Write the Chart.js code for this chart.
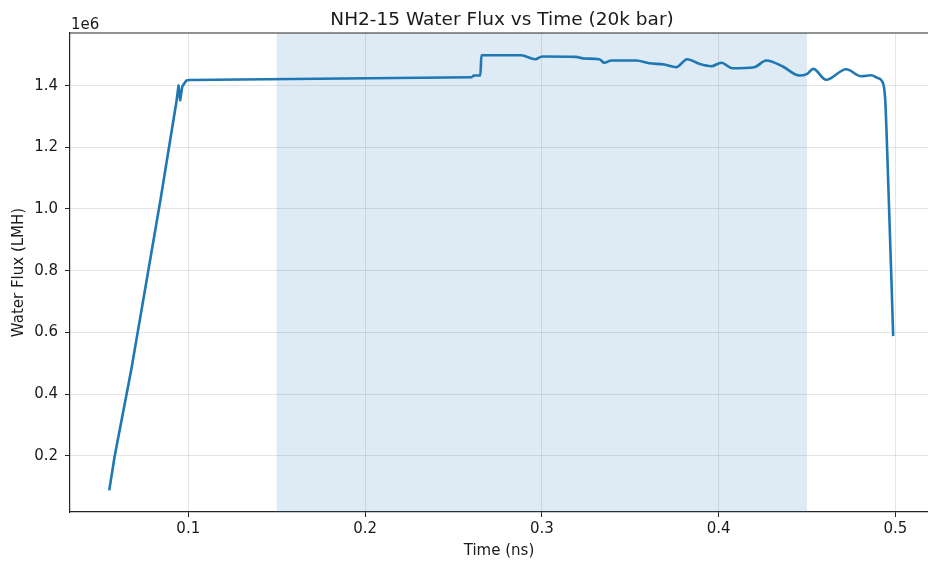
<!DOCTYPE html>
<html>
<head>
<meta charset="utf-8">
<script src="https://cdn.jsdelivr.net/npm/chart.js@4"></script>
<style>
    body { margin: 0; background: #fff; overflow: hidden; }
    #wrap { width: 928px; height: 567px; position: relative; }
</style>
</head>
<body>
<div id="wrap"><canvas id="flux-chart"></canvas></div>
<script>
// values
const timeNs = [
    0.0553, 0.0583, 0.0678, 0.0843, 0.0932, 0.0945, 0.0954, 0.0966, 0.0989, 0.1007,
    0.2607, 0.2613, 0.2652, 0.2658, 0.2882, 0.2963, 0.3001, 0.3193, 0.3240, 0.3325,
    0.3353, 0.3393, 0.3534, 0.3608, 0.3692, 0.3760, 0.3822, 0.3890, 0.3958, 0.4015,
    0.4077, 0.4201, 0.4269, 0.4360, 0.4456, 0.4501, 0.4535, 0.4608, 0.4721, 0.4806,
    0.4863, 0.4897, 0.4931, 0.4942, 0.4951, 0.4964, 0.4977, 0.4987
];
const waterFlux = [
    87500, 196800, 480000, 1030800, 1344200, 1400300, 1352700, 1397100, 1416500, 1418200,
    1427200, 1432700, 1432700, 1498600, 1498600, 1485600, 1494300, 1493300, 1487800, 1485600,
    1473900, 1481400, 1481400, 1472600, 1468400, 1459700, 1485600, 1470700, 1462900, 1473900,
    1456400, 1459700, 1481400, 1462900, 1432700, 1438300, 1454400, 1418800, 1453200, 1430500,
    1433700, 1425300, 1405900, 1354900, 1225300, 998400, 771500, 587700
];
const xTicks = [0.1, 0.2, 0.3, 0.4, 0.5];
const yTicks = [200000, 400000, 600000, 800000, 1000000, 1200000, 1400000];
const shadedSpan = [0.15, 0.45];

const FONT = 'DejaVu Sans';
const INK = '#1a1a1a';
const SPINE = '#262626';
const LINE = '#1f77b4';

// the early ramp is drawn straight, the noisy plateau smoothed
const RAMP_END = 10;

const spanPlugin = {
    id: 'span',
    beforeDatasetsDraw(chart) {
        const { ctx, chartArea, scales } = chart;
        const x0 = scales.x.getPixelForValue(shadedSpan[0]);
        const x1 = scales.x.getPixelForValue(shadedSpan[1]);
        ctx.save();
        ctx.fillStyle = 'rgba(31, 119, 180, 0.15)';
        ctx.fillRect(x0, chartArea.top, x1 - x0, chartArea.bottom - chartArea.top);
        ctx.restore();
    }
};

const decorPlugin = {
    id: 'decor',
    afterDraw(chart) {
        const { ctx, chartArea } = chart;
        ctx.save();
        // top spine
        ctx.strokeStyle = SPINE;
        ctx.lineWidth = 1.2;
        ctx.beginPath();
        ctx.moveTo(chartArea.left, chartArea.top);
        ctx.lineTo(chartArea.right, chartArea.top);
        ctx.stroke();
        // title and offset text
        ctx.fillStyle = INK;
        ctx.textBaseline = 'alphabetic';
        ctx.textAlign = 'center';
        ctx.font = '18.5px "' + FONT + '"';
        ctx.fillText('NH2-15 Water Flux vs Time (20k bar)', 502, 25);
        ctx.textAlign = 'left';
        ctx.font = '15px "' + FONT + '"';
        ctx.fillText('1e6', 71, 29);
        ctx.restore();
    }
};

const points = timeNs.map((t, i) => ({ x: t, y: waterFlux[i] }));

new Chart(document.getElementById('flux-chart'), {
    type: 'line',
    data: {
        datasets: [{
            data: points.slice(0, RAMP_END + 1),
            borderColor: LINE,
            borderWidth: 2.6,
            pointRadius: 0,
            fill: false,
            tension: 0,
            borderJoinStyle: 'round'
        }, {
            data: points.slice(RAMP_END),
            borderColor: LINE,
            borderWidth: 2.6,
            pointRadius: 0,
            fill: false,
            cubicInterpolationMode: 'monotone',
            borderJoinStyle: 'round'
        }]
    },
    options: {
        responsive: true,
        maintainAspectRatio: false,
        animation: false,
        layout: { padding: { top: 33, left: 0, right: 0, bottom: 0 } },
        plugins: {
            legend: { display: false },
            title: { display: false },
            tooltip: { enabled: false }
        },
        scales: {
            x: {
                type: 'linear',
                min: 0.0331,
                max: 0.5184,
                afterBuildTicks: (scale) => { scale.ticks = xTicks.map(v => ({ value: v })); },
                afterFit: (scale) => { scale.height = 55; },
                ticks: {
                    color: INK,
                    font: { family: FONT, size: 15 },
                    padding: 3,
                    maxRotation: 0,
                    callback: (v) => v.toFixed(1)
                },
                grid: { color: 'rgba(0,0,0,0.1)', tickColor: SPINE, tickLength: 5, lineWidth: 1 },
                border: { display: true, color: SPINE, width: 1.2 },
                title: {
                    display: true,
                    text: 'Time (ns)',
                    color: INK,
                    font: { family: FONT, size: 15 },
                    padding: { top: 0, bottom: 7 }
                }
            },
            y: {
                type: 'linear',
                min: 17400,
                max: 1570600,
                afterBuildTicks: (scale) => { scale.ticks = yTicks.map(v => ({ value: v })); },
                afterFit: (scale) => { scale.width = 70; },
                ticks: {
                    color: INK,
                    font: { family: FONT, size: 15 },
                    padding: 7,
                    callback: (v) => (v / 1e6).toFixed(1)
                },
                grid: { color: 'rgba(0,0,0,0.1)', tickColor: SPINE, tickLength: 5, lineWidth: 1 },
                border: { display: true, color: SPINE, width: 1.2 },
                title: {
                    display: true,
                    text: 'Water Flux (LMH)',
                    color: INK,
                    font: { family: FONT, size: 15 },
                    padding: { top: 10, bottom: 0 }
                }
            }
        }
    },
    plugins: [spanPlugin, decorPlugin]
});
</script>
</body>
</html>
